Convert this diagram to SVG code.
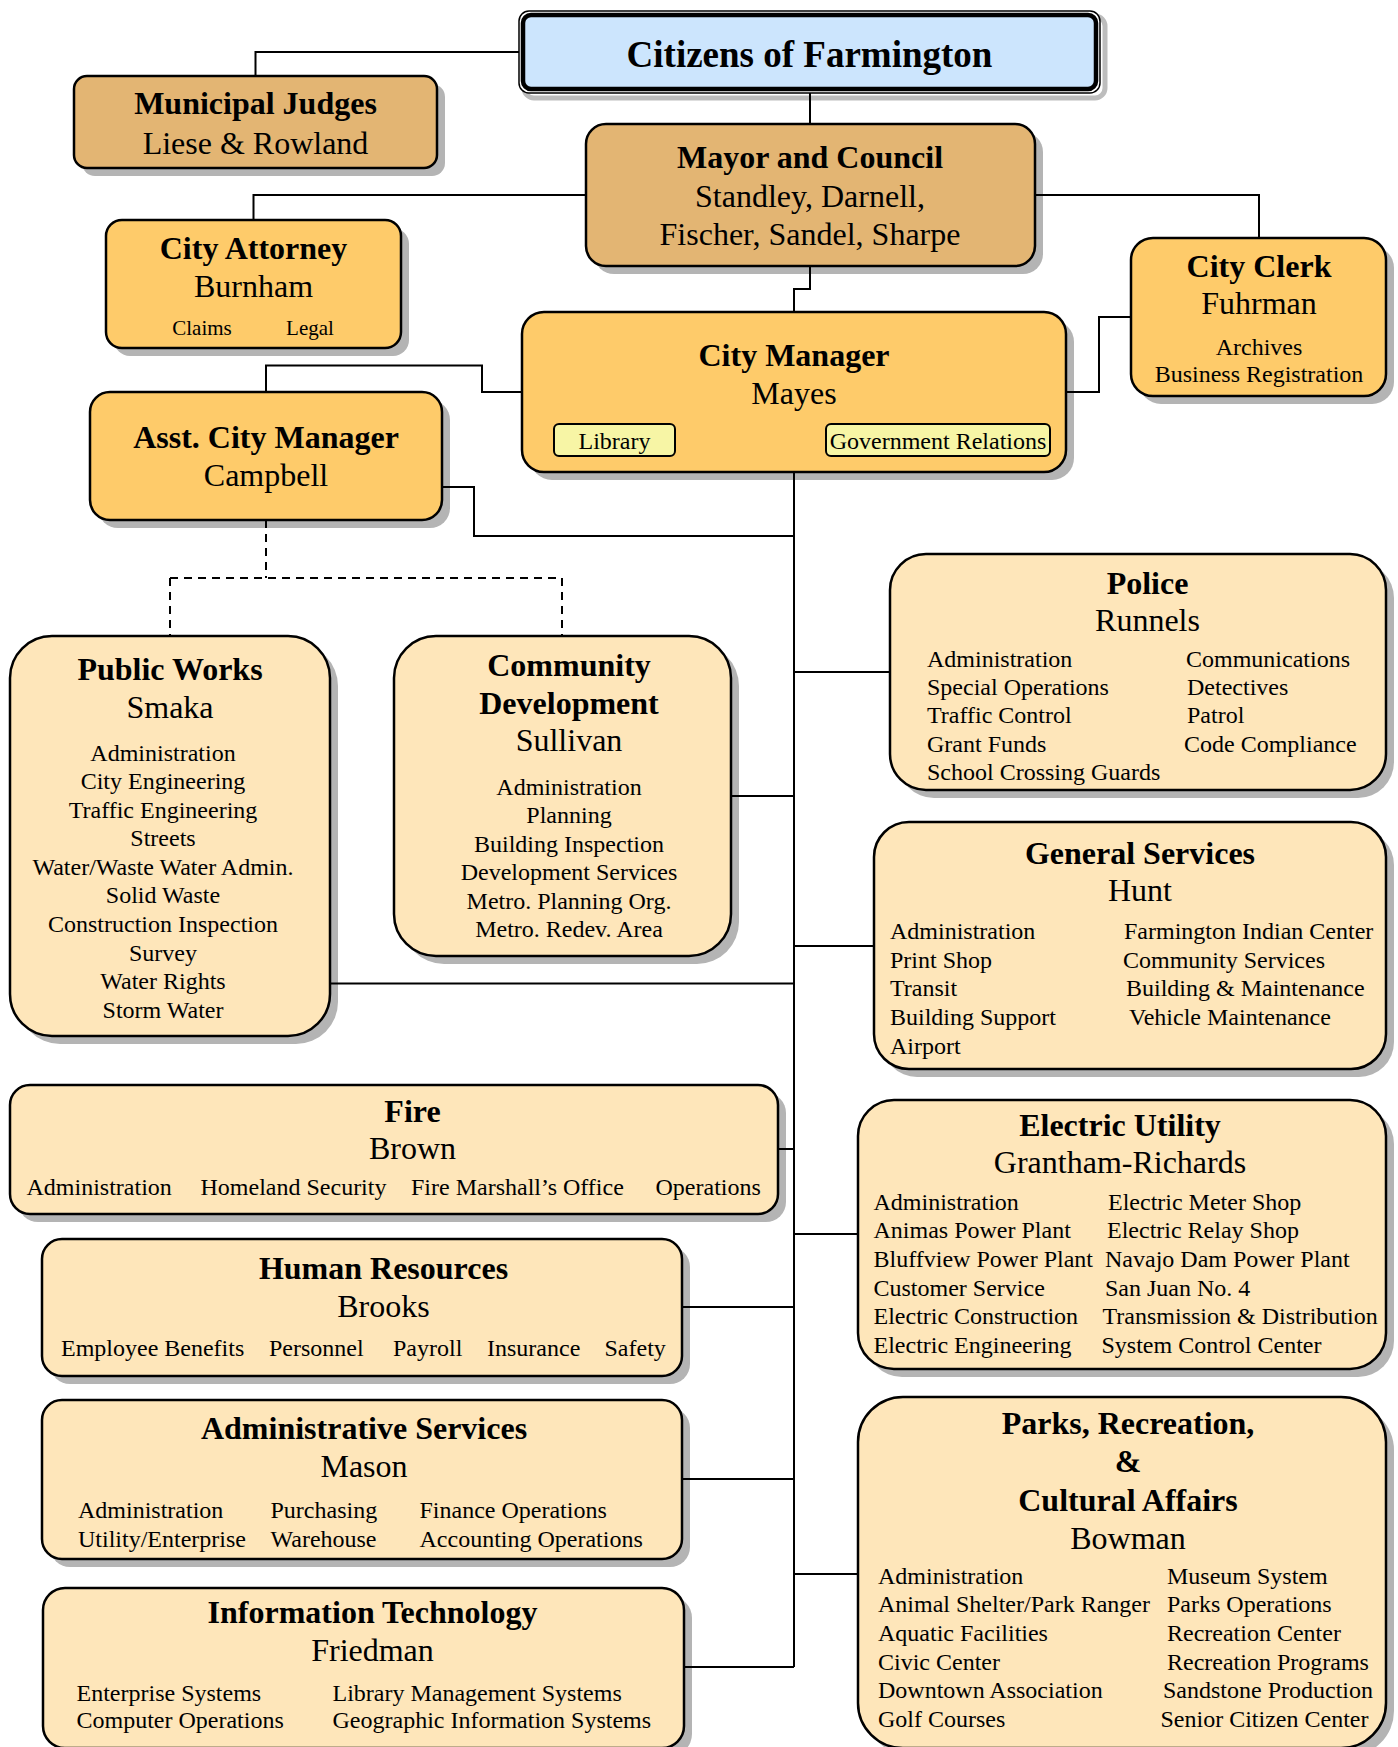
<svg xmlns="http://www.w3.org/2000/svg" width="1398" height="1747" viewBox="0 0 1398 1747">
<style>
text{font-family:"Liberation Serif","Times New Roman",serif;fill:#000}
.t{font-size:32px;font-weight:bold;text-anchor:middle}
.n{font-size:32px;text-anchor:middle}
.i{font-size:24px}
.c{text-anchor:middle}
.sh{fill:#b4b4b4}
.box{stroke:#000;stroke-width:2.5}
.tan{fill:#e3b573}
.gold{fill:#fecb6a}
.peach{fill:#fee6ba}
.sub{fill:#f7f5a5;stroke:#000;stroke-width:2}
.ln{fill:none;stroke:#000;stroke-width:2}
.dash{fill:none;stroke:#000;stroke-width:2;stroke-dasharray:8 6}
</style>
<rect width="1398" height="1747" fill="#fff"/>

<g id="citizens">
<rect x="524" y="16" width="581" height="82" rx="10" fill="none" stroke="#bdbdbd" stroke-width="5"/>
<rect x="519" y="11" width="581" height="82" rx="10" fill="#fff" stroke="#000" stroke-width="1.5"/>
<rect x="523" y="15" width="573" height="74" rx="8" fill="#cce5fd" stroke="#000" stroke-width="4.5"/>
<text x="809.5" y="67" class="c" style="font-size:37px;font-weight:bold">Citizens of Farmington</text>
</g>

<g id="municipal-judges">
<rect class="sh" x="82" y="84" width="363" height="92" rx="13"/>
<rect class="box tan" x="74" y="76" width="363" height="92" rx="13"/>
<text class="t" x="255.5" y="114">Municipal Judges</text>
<text class="n" x="255.5" y="153.5">Liese &amp; Rowland</text>
</g>

<g id="mayor-council">
<rect class="sh" x="594" y="132" width="449" height="142" rx="20"/>
<rect class="box tan" x="586" y="124" width="449" height="142" rx="20"/>
<text class="t" x="810" y="167.5">Mayor and Council</text>
<text class="n" x="810" y="206.5">Standley, Darnell,</text>
<text class="n" x="810" y="244.5">Fischer, Sandel, Sharpe</text>
</g>

<g id="city-attorney">
<rect class="sh" x="114" y="228" width="295" height="128" rx="16"/>
<rect class="box gold" x="106" y="220" width="295" height="128" rx="16"/>
<text class="t" x="253.5" y="258.5">City Attorney</text>
<text class="n" x="253.5" y="296.5">Burnham</text>
<text class="c" x="202" y="334.5" style="font-size:21px">Claims</text>
<text class="c" x="310" y="334.5" style="font-size:21px">Legal</text>
</g>

<g id="city-clerk">
<rect class="sh" x="1139" y="246" width="255" height="158" rx="22"/>
<rect class="box gold" x="1131" y="238" width="255" height="158" rx="22"/>
<text class="t" x="1259" y="276.5">City Clerk</text>
<text class="n" x="1259" y="313.5">Fuhrman</text>
<text class="i c" x="1259" y="355">Archives</text>
<text class="i c" x="1259" y="382">Business Registration</text>
</g>

<g id="city-manager">
<rect class="sh" x="530" y="320" width="544" height="160" rx="22"/>
<rect class="box gold" x="522" y="312" width="544" height="160" rx="22"/>
<text class="t" x="794" y="365.5">City Manager</text>
<text class="n" x="794" y="403.5">Mayes</text>
<rect class="sub" x="554" y="424" width="121" height="32" rx="5"/>
<text class="i c" x="614.5" y="448.5">Library</text>
<rect class="sub" x="826" y="424" width="224" height="32" rx="5"/>
<text class="i c" x="938" y="448.5">Government Relations</text>
</g>

<g id="asst-city-manager">
<rect class="sh" x="98" y="400" width="352" height="128" rx="20"/>
<rect class="box gold" x="90" y="392" width="352" height="128" rx="20"/>
<text class="t" x="266" y="447.5">Asst. City Manager</text>
<text class="n" x="266" y="485.5">Campbell</text>
</g>

<g id="public-works">
<rect class="sh" x="18" y="644" width="320" height="400" rx="42"/>
<rect class="box peach" x="10" y="636" width="320" height="400" rx="42"/>
<text class="t" x="170" y="679.5">Public Works</text>
<text class="n" x="170" y="717.5">Smaka</text>
<g class="i c">
<text x="163" y="760.5">Administration</text>
<text x="163" y="789">City Engineering</text>
<text x="163" y="817.6">Traffic Engineering</text>
<text x="163" y="846.2">Streets</text>
<text x="163" y="874.8">Water/Waste Water Admin.</text>
<text x="163" y="903.4">Solid Waste</text>
<text x="163" y="932">Construction Inspection</text>
<text x="163" y="960.6">Survey</text>
<text x="163" y="989.2">Water Rights</text>
<text x="163" y="1017.8">Storm Water</text>
</g>
</g>

<g id="community-development">
<rect class="sh" x="402" y="644" width="337" height="320" rx="42"/>
<rect class="box peach" x="394" y="636" width="337" height="320" rx="42"/>
<text class="t" x="569" y="675.5">Community</text>
<text class="t" x="569" y="713.5">Development</text>
<text class="n" x="569" y="750.5">Sullivan</text>
<g class="i c">
<text x="569" y="794.5">Administration</text>
<text x="569" y="823">Planning</text>
<text x="569" y="851.6">Building Inspection</text>
<text x="569" y="880.2">Development Services</text>
<text x="569" y="908.8">Metro. Planning Org.</text>
<text x="569" y="937.4">Metro. Redev. Area</text>
</g>
</g>

<g id="police">
<rect class="sh" x="898" y="562" width="496" height="236" rx="36"/>
<rect class="box peach" x="890" y="554" width="496" height="236" rx="36"/>
<text class="t" x="1147.5" y="593.5">Police</text>
<text class="n" x="1147.5" y="630.5">Runnels</text>
<g class="i">
<text x="927" y="666.5">Administration</text>
<text x="927" y="694.9">Special Operations</text>
<text x="927" y="723.3">Traffic Control</text>
<text x="927" y="751.7">Grant Funds</text>
<text x="927" y="780.1">School Crossing Guards</text>
<text x="1186" y="666.5">Communications</text>
<text x="1187" y="694.9">Detectives</text>
<text x="1187" y="723.3">Patrol</text>
<text x="1184" y="751.7">Code Compliance</text>
</g>
</g>

<g id="general-services">
<rect class="sh" x="882" y="830" width="512" height="247" rx="35"/>
<rect class="box peach" x="874" y="822" width="512" height="247" rx="35"/>
<text class="t" x="1140" y="863.5">General Services</text>
<text class="n" x="1140" y="900.5">Hunt</text>
<g class="i">
<text x="890" y="939">Administration</text>
<text x="890" y="967.7">Print Shop</text>
<text x="890" y="996.4">Transit</text>
<text x="890" y="1025.1">Building Support</text>
<text x="890" y="1053.8">Airport</text>
<text x="1124" y="939">Farmington Indian Center</text>
<text x="1123" y="967.7">Community Services</text>
<text x="1126" y="996.4">Building &amp; Maintenance</text>
<text x="1129" y="1025.1">Vehicle Maintenance</text>
</g>
</g>

<g id="fire">
<rect class="sh" x="18" y="1093" width="768" height="129" rx="20"/>
<rect class="box peach" x="10" y="1085" width="768" height="129" rx="20"/>
<text class="t" x="412.5" y="1121.5">Fire</text>
<text class="n" x="412.5" y="1159">Brown</text>
<g class="i">
<text x="26.5" y="1194.5">Administration</text>
<text x="200.5" y="1194.5">Homeland Security</text>
<text x="411" y="1194.5">Fire Marshall’s Office</text>
<text x="655.5" y="1194.5">Operations</text>
</g>
</g>

<g id="electric-utility">
<rect class="sh" x="866" y="1108" width="528" height="269" rx="36"/>
<rect class="box peach" x="858" y="1100" width="528" height="269" rx="36"/>
<text class="t" x="1120" y="1135.5">Electric Utility</text>
<text class="n" x="1120" y="1172.5">Grantham-Richards</text>
<g class="i">
<text x="873.5" y="1209.5">Administration</text>
<text x="873.5" y="1238.2">Animas Power Plant</text>
<text x="873.5" y="1266.9">Bluffview Power Plant</text>
<text x="873.5" y="1295.6">Customer Service</text>
<text x="873.5" y="1324.3">Electric Construction</text>
<text x="873.5" y="1353">Electric Engineering</text>
<text x="1108" y="1209.5">Electric Meter Shop</text>
<text x="1107" y="1238.2">Electric Relay Shop</text>
<text x="1105" y="1266.9">Navajo Dam Power Plant</text>
<text x="1105" y="1295.6">San Juan No. 4</text>
<text x="1102.5" y="1324.3">Transmission &amp; Distribution</text>
<text x="1101.5" y="1353">System Control Center</text>
</g>
</g>

<g id="human-resources">
<rect class="sh" x="50" y="1247" width="640" height="137" rx="20"/>
<rect class="box peach" x="42" y="1239" width="640" height="137" rx="20"/>
<text class="t" x="383.5" y="1279">Human Resources</text>
<text class="n" x="383.5" y="1317">Brooks</text>
<g class="i">
<text x="61" y="1356">Employee Benefits</text>
<text x="269" y="1356">Personnel</text>
<text x="393" y="1356">Payroll</text>
<text x="487" y="1356">Insurance</text>
<text x="604.5" y="1356">Safety</text>
</g>
</g>

<g id="administrative-services">
<rect class="sh" x="50" y="1408" width="640" height="159" rx="20"/>
<rect class="box peach" x="42" y="1400" width="640" height="159" rx="20"/>
<text class="t" x="364" y="1439">Administrative Services</text>
<text class="n" x="364" y="1477">Mason</text>
<g class="i">
<text x="78" y="1517.8">Administration</text>
<text x="78" y="1546.5">Utility/Enterprise</text>
<text x="270.5" y="1517.8">Purchasing</text>
<text x="270.5" y="1546.5">Warehouse</text>
<text x="419.5" y="1517.8">Finance Operations</text>
<text x="419.5" y="1546.5">Accounting Operations</text>
</g>
</g>

<g id="information-technology">
<rect class="sh" x="51" y="1596" width="641" height="160" rx="22"/>
<rect class="box peach" x="43" y="1588" width="641" height="160" rx="22"/>
<text class="t" x="372.5" y="1622.5">Information Technology</text>
<text class="n" x="372.5" y="1660.5">Friedman</text>
<g class="i">
<text x="76.5" y="1700.5">Enterprise Systems</text>
<text x="76.5" y="1728">Computer Operations</text>
<text x="332.5" y="1700.5">Library Management Systems</text>
<text x="332.5" y="1728">Geographic Information Systems</text>
</g>
</g>

<g id="parks-recreation">
<rect class="sh" x="866" y="1405" width="528" height="351" rx="45"/>
<rect class="box peach" x="858" y="1397" width="528" height="351" rx="45"/>
<text class="t" x="1128" y="1434">Parks, Recreation,</text>
<text class="t" x="1128" y="1472">&amp;</text>
<text class="t" x="1128" y="1510.5">Cultural Affairs</text>
<text class="n" x="1128" y="1549">Bowman</text>
<g class="i">
<text x="878" y="1583.8">Administration</text>
<text x="878" y="1612.4">Animal Shelter/Park Ranger</text>
<text x="878" y="1641">Aquatic Facilities</text>
<text x="878" y="1669.6">Civic Center</text>
<text x="878" y="1698.2">Downtown Association</text>
<text x="878" y="1726.8">Golf Courses</text>
<text x="1167" y="1583.8">Museum System</text>
<text x="1167" y="1612.4">Parks Operations</text>
<text x="1167" y="1641">Recreation Center</text>
<text x="1167" y="1669.6">Recreation Programs</text>
<text x="1163" y="1698.2">Sandstone Production</text>
<text x="1160.5" y="1726.8">Senior Citizen Center</text>
</g>
</g>

<g id="connectors">
<path class="ln" d="M519,52H255.5V76"/>
<path class="ln" d="M810,93V124"/>
<path class="ln" d="M586,195H253.5V220"/>
<path class="ln" d="M1035,195H1259V238"/>
<path class="ln" d="M810,266V289H794V312"/>
<path class="ln" d="M1131,317H1099V392H1066"/>
<path class="ln" d="M522,392H482V365.5H266V392"/>
<path class="ln" d="M794,472V1667"/>
<path class="ln" d="M442,487H474V536H794"/>
<path class="ln" d="M794,672H890"/>
<path class="ln" d="M731,796H794"/>
<path class="ln" d="M794,946H874"/>
<path class="ln" d="M330,983.5H794"/>
<path class="ln" d="M778,1149H794"/>
<path class="ln" d="M794,1234H858"/>
<path class="ln" d="M682,1307H794"/>
<path class="ln" d="M682,1479H794"/>
<path class="ln" d="M794,1574H858"/>
<path class="ln" d="M684,1667H794"/>
<path class="dash" d="M266,520V578"/>
<path class="dash" d="M170,578H562"/>
<path class="dash" d="M170,578V636"/>
<path class="dash" d="M562,578V636"/>
</g>
</svg>
